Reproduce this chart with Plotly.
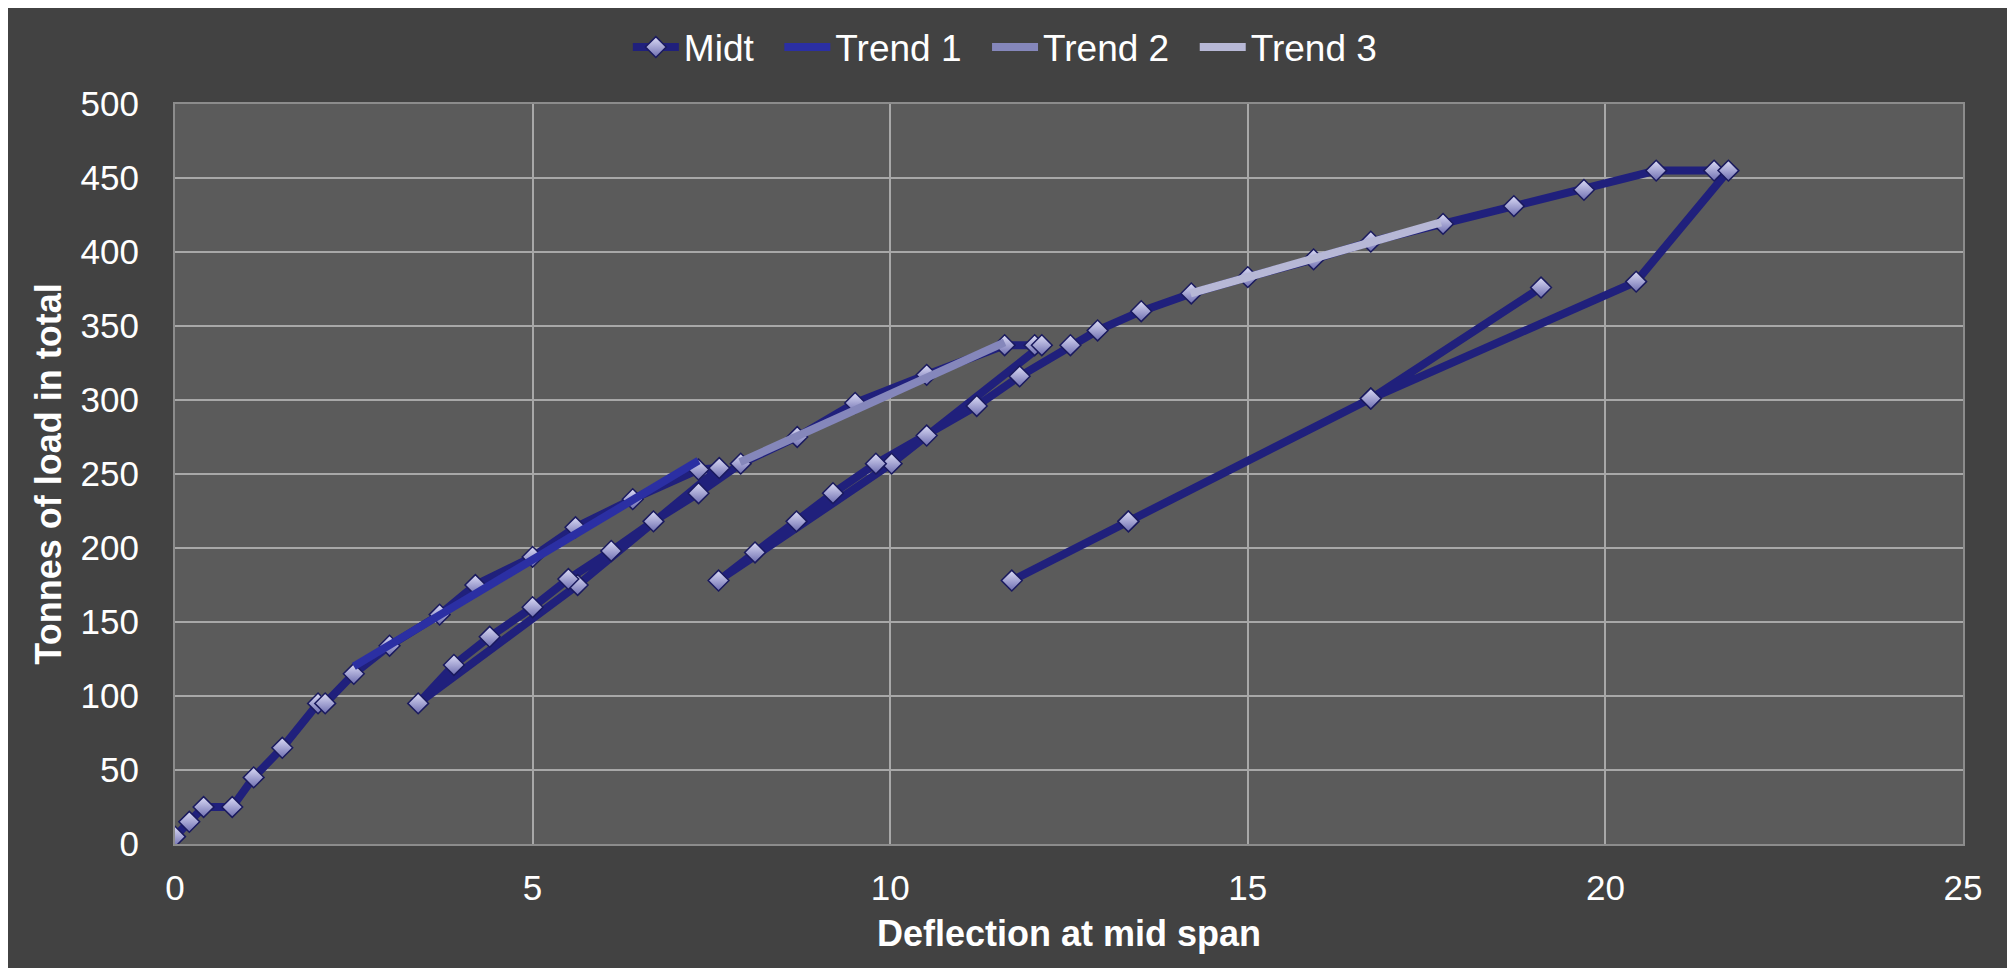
import plotly.graph_objects as go

# Midt series (deflection, load), in measurement order
midt_x = [0, 0.2, 0.4, 0.8, 1.1, 1.5, 2.0, 2.1, 2.5, 3.0, 3.7, 4.2, 5.0, 5.6, 6.4, 7.32, 7.61,
          5.63, 3.4,
          3.9, 4.4, 5.0, 5.5, 6.1, 6.69, 7.32, 7.91, 8.7, 9.51, 10.51, 11.6, 12.02, 12.12,
          10.02, 7.6,
          8.11, 8.69, 9.2, 9.8, 10.51, 11.21, 11.81, 12.52, 12.9, 13.51, 14.21, 15.0, 15.92,
          16.72, 17.73, 18.72, 19.7, 20.71, 21.52, 21.72,
          20.43, 16.72, 13.33, 11.7,
          13.33, 16.72, 19.1]
midt_y = [5, 15, 25, 25, 45, 65, 95, 95, 115, 134, 155, 175, 194, 214, 233, 253, 254,
          175, 95,
          121, 140, 160, 179, 198, 218, 237, 257, 275, 298, 317, 337, 337, 337,
          257, 178,
          197, 218, 237, 257, 276, 296, 316, 337, 347, 360, 372, 383, 395,
          407, 419, 431, 442, 455, 455, 455,
          380, 301, 218, 178,
          218, 301, 376]

trend1_x = [2.5, 7.32]
trend1_y = [120, 259]
trend2_x = [7.9, 11.6]
trend2_y = [258, 339]
trend3_x = [14.2, 17.7]
trend3_y = [372, 420]

series_names = ["Midt", "Trend 1", "Trend 2", "Trend 3"]
PAD = "\u00a0\u00a0"  # spacing after each legend label

FONT = "Liberation Sans, Arial, sans-serif"

fig = go.Figure()
fig.add_trace(go.Scatter(
    x=midt_x, y=midt_y, name=series_names[0] + PAD, mode="lines+markers",
    line=dict(color="#20207c", width=8),
    marker=dict(symbol="diamond", size=16, color="#dcdcf6",
                gradient=dict(type="vertical", color="#6e6eb0"),
                line=dict(color="#1a1a5e", width=1.5)),
))
fig.add_trace(go.Scatter(x=trend1_x, y=trend1_y, name=series_names[1] + PAD, mode="lines",
                         line=dict(color="#2b2fa3", width=8)))
fig.add_trace(go.Scatter(x=trend2_x, y=trend2_y, name=series_names[2] + PAD, mode="lines",
                         line=dict(color="#8587bb", width=8)))
fig.add_trace(go.Scatter(x=trend3_x, y=trend3_y, name=series_names[3] + PAD, mode="lines",
                         line=dict(color="#b7b8d6", width=8)))

fig.update_layout(
    width=1999, height=960,
    margin=dict(l=167, r=44, t=96, b=124, autoexpand=False),
    paper_bgcolor="#424242", plot_bgcolor="#5b5b5b",
    font=dict(family=FONT, color="white", size=35),
    showlegend=True,
    legend=dict(orientation="h", x=0.4700, xanchor="center",
                yref="container", y=0.9589, yanchor="middle",
                bgcolor="rgba(0,0,0,0)", font=dict(size=37, color="white"),
                itemwidth=46, tracegroupgap=0),
)
fig.update_xaxes(
    range=[0, 25], tick0=0, dtick=5, showgrid=True, gridcolor="#a8a8a8", gridwidth=1.5,
    zeroline=False, showline=True, linecolor="#8c8c8c", linewidth=2, mirror=True,
    ticks="", ticklabelstandoff=12, tickfont=dict(size=35, color="white"),
    title=dict(text="Deflection at mid span", font=dict(size=36, color="white", weight="bold"),
               standoff=15),
)
fig.update_yaxes(
    range=[0, 500], tick0=0, dtick=50, showgrid=True, gridcolor="#a8a8a8", gridwidth=1.5,
    zeroline=False, showline=True, linecolor="#8c8c8c", linewidth=2, mirror=True,
    ticks="", ticklabelstandoff=27, tickfont=dict(size=35, color="white"),
    title=dict(text="Tonnes of load in total", font=dict(size=36, color="white", weight="bold"),
               standoff=8),
)

fig.write_html("out.html")
